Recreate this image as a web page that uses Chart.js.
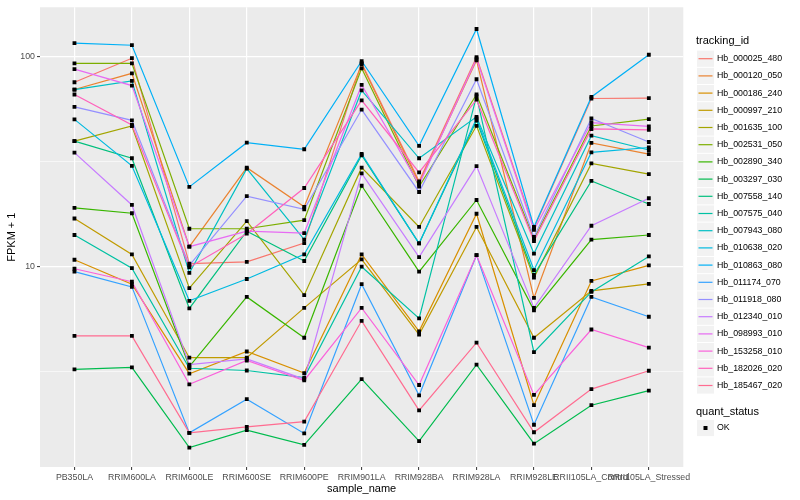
<!DOCTYPE html>
<html>
<head>
<meta charset="utf-8">
<script src="https://cdn.jsdelivr.net/npm/chart.js@4.4.0/dist/chart.umd.min.js"></script>
<style>
  html, body { margin: 0; padding: 0; background: #fff; }
  #wrap { width: 800px; height: 500px; }
</style>
</head>
<body>
<div id="wrap"><canvas id="c" width="800" height="500"></canvas></div>
<script>
// categories on the x axis
const sampleNames = ['PB350LA', 'RRIM600LA', 'RRIM600LE', 'RRIM600SE', 'RRIM600PE', 'RRIM901LA',
  'RRIM928BA', 'RRIM928LA', 'RRIM928LE', 'RRII105LA_Control', 'RRII105LA_Stressed'];

// FPKM + 1 per gene, one value per sample
const hb_000025_480 = [75.3, 98, 10.3, 10.5, 12.9, 92.9, 25.4, 99.2, 15.2, 63, 63.2];
const hb_000120_050 = [69.5, 83, 12.4, 29.5, 19.2, 91.6, 24.9, 95.7, 7.07, 38.7, 34.2];
const hb_000186_240 = [10.75, 8.22, 3.08, 3.93, 3.1, 11.4, 4.9, 17.8, 2.18, 8.52, 10.1];
const hb_000997_210 = [16.9, 11.4, 3.67, 3.67, 6.34, 10.8, 4.73, 15.4, 4.57, 7.64, 8.24];
const hb_001635_100 = [39.5, 46.6, 7.87, 16.4, 7.29, 29.5, 15.4, 46.7, 8.83, 30.9, 27.5];
const hb_002531_050 = [92.6, 92.6, 15.1, 15.1, 16.6, 87.7, 24.0, 65.8, 13.5, 46.6, 50.2];
const hb_002890_340 = [19.0, 17.9, 3.33, 7.15, 4.57, 24.2, 9.43, 20.7, 6.17, 13.4, 14.1];
const hb_003297_030 = [3.23, 3.30, 1.37, 1.66, 1.41, 2.9, 1.47, 3.4, 1.43, 2.18, 2.56];
const hb_007558_140 = [39.5, 32.7, 6.3, 14.7, 10.6, 33.8, 12.85, 49.5, 9.1, 25.5, 19.8];
const hb_007575_040 = [14.1, 9.8, 3.27, 3.19, 2.95, 9.96, 5.65, 64.6, 3.9, 7.55, 11.15];
const hb_007943_080 = [69.5, 76.4, 9.3, 29.2, 13.4, 68.8, 32.7, 51.5, 11.5, 41.9, 35.8];
const hb_010638_020 = [50.1, 30.1, 6.85, 8.7, 11.4, 34.3, 12.85, 50.6, 9.6, 34.9, 36.8];
const hb_010863_080 = [115.6, 113, 23.9, 38.8, 36.1, 95.0, 37.5, 135, 15.4, 64.1, 101.8];
const hb_011174_070 = [9.43, 7.98, 1.61, 2.33, 1.60, 8.22, 2.43, 11.3, 1.76, 7.15, 5.75];
const hb_011918_080 = [57.5, 49.6, 10.1, 21.6, 18.7, 55.8, 22.6, 77.8, 13.8, 50.6, 39.1];
const hb_012340_010 = [34.8, 19.6, 3.40, 3.62, 2.9, 27.7, 11.07, 30, 6.34, 15.6, 21.1];
const hb_098993_010 = [87, 72.6, 12.4, 14.7, 14.4, 73.1, 24.5, 97.4, 14.9, 48.4, 46.4];
const hb_153258_010 = [9.74, 8.45, 2.74, 3.56, 2.86, 6.34, 2.72, 11.3, 2.44, 5.0, 4.1];
const hb_182026_020 = [65.8, 47.1, 9.9, 14.3, 23.6, 61.7, 28, 62.2, 13.2, 45.1, 44.7];
const hb_185467_020 = [4.66, 4.66, 1.61, 1.72, 1.82, 5.5, 2.06, 4.33, 1.62, 2.6, 3.18];

const trackingIds = ['Hb_000025_480', 'Hb_000120_050', 'Hb_000186_240', 'Hb_000997_210', 'Hb_001635_100',
  'Hb_002531_050', 'Hb_002890_340', 'Hb_003297_030', 'Hb_007558_140', 'Hb_007575_040',
  'Hb_007943_080', 'Hb_010638_020', 'Hb_010863_080', 'Hb_011174_070', 'Hb_011918_080',
  'Hb_012340_010', 'Hb_098993_010', 'Hb_153258_010', 'Hb_182026_020', 'Hb_185467_020'];
const seriesValues = [hb_000025_480, hb_000120_050, hb_000186_240, hb_000997_210, hb_001635_100,
  hb_002531_050, hb_002890_340, hb_003297_030, hb_007558_140, hb_007575_040,
  hb_007943_080, hb_010638_020, hb_010863_080, hb_011174_070, hb_011918_080,
  hb_012340_010, hb_098993_010, hb_153258_010, hb_182026_020, hb_185467_020];
const lineColors = ['#F8766D', '#EA8331', '#D89000', '#C09B00', '#A3A500', '#7CAE00', '#39B600', '#00BB4E',
  '#00BF7D', '#00C1A3', '#00BFC4', '#00BAE0', '#00B0F6', '#35A2FF', '#9590FF', '#C77CFF',
  '#E76BF3', '#FA62DB', '#FF62BC', '#FF6C91'];

const yBreaks = [Math.sqrt(10), 10, Math.pow(10, 1.5), 100];
const FONT = '"Liberation Sans", Arial, sans-serif';

function toXY(vals) {
  return vals.map((v, i) => ({ x: i, y: v }));
}

const datasets = [];
seriesValues.forEach((vals, i) => {
  datasets.push({
    label: trackingIds[i],
    data: toXY(vals),
    borderColor: lineColors[i],
    borderWidth: 1.2,
    pointRadius: 0,
    order: 100 - i
  });
});
// points on top of every line, like geom_point after geom_line
seriesValues.forEach((vals, i) => {
  datasets.push({
    label: trackingIds[i] + ' OK',
    data: toXY(vals),
    showLine: false,
    pointStyle: 'rect',
    pointRadius: 2.7,
    pointBackgroundColor: '#000',
    pointBorderWidth: 0,
    order: 0
  });
});

const panelBg = {
  id: 'panelBg',
  beforeDraw(chart) {
    const a = chart.chartArea;
    const ctx = chart.ctx;
    ctx.save();
    ctx.fillStyle = '#EBEBEB';
    ctx.fillRect(a.left, a.top, a.right - a.left, a.bottom - a.top);
    ctx.restore();
  }
};

const ggLegend = {
  id: 'ggLegend',
  afterDraw(chart) {
    const ctx = chart.ctx;
    ctx.save();
    ctx.textBaseline = 'middle';
    ctx.textAlign = 'left';
    ctx.fillStyle = '#000';
    ctx.font = '11px ' + FONT;
    ctx.fillText('tracking_id', 696, 40.5);
    ctx.font = '8.8px ' + FONT;
    trackingIds.forEach((name, i) => {
      const cy = 58.7 + i * 17.2;
      ctx.fillStyle = '#F2F2F2';
      ctx.fillRect(697, cy - 8.1, 17, 16.2);
      ctx.strokeStyle = lineColors[i];
      ctx.lineWidth = 1.2;
      ctx.beginPath();
      ctx.moveTo(698.5, cy);
      ctx.lineTo(712.5, cy);
      ctx.stroke();
      ctx.fillStyle = '#000';
      ctx.fillText(name, 717, cy);
    });
    ctx.font = '11px ' + FONT;
    ctx.fillText('quant_status', 696, 411.7);
    ctx.fillStyle = '#F2F2F2';
    ctx.fillRect(697, 428 - 8.1, 17, 16.2);
    ctx.fillStyle = '#000';
    ctx.fillRect(703.5, 426, 4, 4);
    ctx.font = '8.8px ' + FONT;
    ctx.fillText('OK', 717, 428);
    ctx.restore();
  }
};

new Chart(document.getElementById('c'), {
  type: 'line',
  data: { datasets: datasets },
  options: {
    responsive: false,
    animation: false,
    devicePixelRatio: 1,
    layout: { padding: { left: 0, right: 116.7, top: 5, bottom: 0 } },
    plugins: {
      legend: { display: false },
      tooltip: { enabled: false }
    },
    elements: { line: { tension: 0 } },
    scales: {
      x: {
        type: 'linear',
        min: -0.6,
        max: 10.6,
        afterBuildTicks(scale) {
          scale.ticks = sampleNames.map((n, i) => ({ value: i }));
        },
        afterFit(scale) { scale.height = 33; },
        border: { display: false },
        grid: {
          color: '#FFFFFF',
          lineWidth: 1.2,
          drawTicks: true,
          tickLength: 3,
          tickColor: '#333333',
          tickWidth: 1
        },
        ticks: {
          autoSkip: false,
          maxRotation: 0,
          minRotation: 0,
          padding: 2,
          color: '#4D4D4D',
          font: { size: 8.8, family: FONT },
          callback(v) { return sampleNames[v]; }
        },
        title: {
          display: true,
          text: 'sample_name',
          color: '#000',
          font: { size: 11, family: FONT },
          padding: { top: 0, bottom: 4.5 }
        }
      },
      y: {
        type: 'logarithmic',
        min: 1.107,
        max: 171.3,
        afterBuildTicks(scale) {
          scale.ticks = yBreaks.map(v => ({ value: v }));
        },
        afterFit(scale) { scale.width = 40; },
        border: { display: false },
        grid: {
          color: '#FFFFFF',
          lineWidth(c) { return (c.tick && (c.tick.value === 10 || c.tick.value === 100)) ? 1.2 : 0.6; },
          drawTicks: true,
          tickLength: 3,
          tickColor(c) { return (c.tick && (c.tick.value === 10 || c.tick.value === 100)) ? '#333333' : 'rgba(0,0,0,0)'; },
          tickWidth: 1
        },
        ticks: {
          padding: 2,
          color: '#4D4D4D',
          font: { size: 8.8, family: FONT },
          callback(v) { return (v === 10 || v === 100) ? String(v) : ''; }
        },
        title: {
          display: true,
          text: 'FPKM + 1',
          color: '#000',
          font: { size: 11, family: FONT },
          padding: { top: 5.4, bottom: 0 }
        }
      }
    }
  },
  plugins: [panelBg, ggLegend]
});
</script>
</body>
</html>
